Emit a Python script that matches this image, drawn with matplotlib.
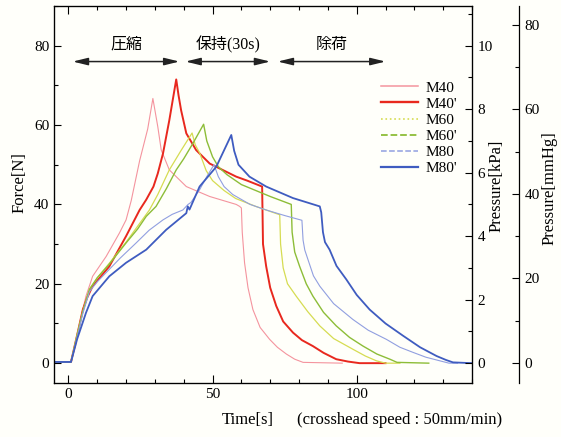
#!/usr/bin/env python3
"""Force / pressure vs time for the compression - hold - unload test."""
import matplotlib
matplotlib.use("Agg")
import matplotlib.pyplot as plt
from matplotlib.lines import Line2D
from matplotlib.ticker import MultipleLocator

SERIF = ["Liberation Serif", "DejaVu Serif"]
JP = ["Liberation Serif", "Noto Sans CJK JP"]

# curves: time [s], force [N]
m40_t = [-5, 0.8, 2.5, 3.8, 5, 6.1, 8.4, 13.1, 17.7, 20, 21.8, 24.7, 27.5, 29.3,
         31, 32.2, 35, 40.9, 49, 58.2, 59.4, 60.0, 60.3, 61.1, 62.3, 64,
         66.5, 69.8, 72.5, 75.6, 78.5, 81.4, 95]
m40_f = [0.3, 0.3, 4.5, 9.4, 13.5, 16.9, 21.9, 26.9, 32.8, 36.1, 41, 51, 59, 66.7,
         59.6, 53.7, 48.7, 44.5, 42, 40, 39.5, 39.1, 33, 25.3, 19, 13.5,
         9, 6, 4, 2.3, 1, 0.2, 0]

m40p_t = [-5, 0.9, 3, 5, 6.5, 8.4, 14.2, 20, 24.7, 27, 29.5, 31, 32.8, 35, 37.4,
          38.2, 39.1, 40.9, 44.3, 49, 58.2, 62, 67.2, 67.5, 68.6, 70, 72.1, 74.5,
          77.9, 81, 84.8, 88.5, 92.9, 97, 101, 110]
m40p_f = [0.3, 0.3, 7, 13.5, 16.5, 19.4, 24.4, 32, 38.6, 41.2, 44.5, 47.8, 52.8,
          61.2, 71.5, 67.5, 63.7, 57.9, 53.7, 50.3, 47, 46, 44.5, 30, 24.4, 19,
          14.4, 10.5, 7.7, 5.8, 4.3, 2.6, 1, 0.4, 0, 0]

m60_t = [-5, 0.9, 3, 5, 7.3, 10, 14, 20, 25, 28.1, 31, 35, 39, 42.9, 44, 45.5,
         47.8, 50, 54, 58, 65, 73.3, 73.6, 74.5, 76, 79, 83, 87.2, 92, 98.7,
         103, 106.8, 110, 115]
m60_f = [0.3, 0.3, 7, 13, 18.6, 21.5, 25, 30.5, 35.5, 38.6, 42.5, 48.7, 53.5, 58,
         55, 53, 48.5, 46, 43.5, 41.5, 39.5, 37.4, 30, 24, 20, 16.9, 13, 9.4,
         6.2, 3.5, 1.8, 0.6, 0, 0]

m60p_t = [-5, 0.9, 3, 5, 7.3, 10, 14, 20, 24, 27, 30.4, 34, 37.4, 40, 43.2, 46.9,
          48, 50, 52, 55, 60, 65, 70, 77.3, 77.6, 78.5, 80.2, 82.5, 84.8, 88.5,
          92.9, 97.5, 102.2, 107, 111.5, 114, 125]
m60p_f = [0.3, 0.3, 7, 13, 18.6, 21.5, 24.8, 30.3, 33.8, 37, 39.5, 44, 48.7, 51.5,
          55.4, 60.2, 56, 52, 49.5, 47.5, 45, 43.5, 42, 40, 33, 28, 24.4, 20,
          16.9, 12.8, 9.4, 6.5, 4.3, 2.3, 1, 0.2, 0]

m80_t = [-5, 0.9, 3, 5, 7.3, 10, 14, 18, 23.5, 28, 32.8, 36, 39.7, 41.5, 42.5,
         45.5, 48, 50.5, 52, 54, 57, 63, 68.6, 75, 81, 81.4, 82, 83.1, 85, 87.2,
         92, 98.7, 104, 110.3, 115, 119.6, 124, 128.8, 132, 135]
m80_f = [0.3, 0.3, 6.5, 12.5, 18, 20.5, 23.5, 26.5, 30.3, 33.5, 36.1, 37.5, 38.6,
         40, 40.5, 43.7, 47, 50, 47, 44.5, 42.5, 40, 38.6, 37.2, 36, 31, 28.5,
         26.1, 22, 19.4, 15, 11, 8.3, 6, 4, 2.7, 1.5, 0.6, 0, 0]

m80p_t = [-5, 0.9, 3, 6.1, 8.4, 14.2, 20, 27, 33.9, 40.9, 41.4, 42, 45.5, 51.3,
          56.5, 57.5, 59, 62.8, 68.6, 77.9, 87.2, 87.7, 88.3, 89, 90.6, 93, 96.4,
          100, 104.5, 110, 116.1, 122, 127.7, 131, 133.4, 140]
m80p_f = [0.3, 0.3, 6, 12.7, 16.9, 21.9, 25.3, 28.6, 33.6, 37.8, 39.5, 38.7, 44.5,
          49.5, 57.5, 53.5, 50, 47, 44.5, 41.6, 39.5, 38, 33, 30.5, 28.6, 24.5,
          21.1, 17.2, 13.5, 10, 6.9, 4, 1.8, 0.8, 0.2, 0]

labels = ["M40", "M40'", "M60", "M60'", "M80", "M80'"]
colors = ["#f4949e", "#e8281e", "#d6dc52", "#8dbd38", "#919fe0", "#3f5cc0"]
widths = [0.8, 1.4, 0.9, 1.0, 0.8, 1.3]
styles = ["-", "-", ":", "--", "--", "-"]

# test phases: (start, end) in seconds and their labels
phase_names = ["圧縮", "保持(30s)", "除荷"]
phase_start = [1.5, 40.6, 72.6]
phase_end = [38.5, 70.0, 110.0]

KPA_PER_N = 1 / 8.0
MMHG_PER_KPA = 7.5


def main() -> None:
    W, H = 561, 437
    fig = plt.figure(figsize=(W / 100, H / 100), dpi=100, facecolor="#fffffa")
    ax = fig.add_axes([54 / W, 1 - 383 / H, (472 - 54) / W, (383 - 6) / H])
    ax.set_facecolor("#fffffa")

    series = [(m40_t, m40_f), (m40p_t, m40p_f), (m60_t, m60_f),
              (m60p_t, m60p_f), (m80_t, m80_f), (m80p_t, m80p_f)]
    for (t, f), c, lw in zip(series, colors, widths):
        ax.plot(t, f, color=c, lw=lw)

    ylo, yhi = -5, 90
    ax.set_xlim(-5, 140)
    ax.set_ylim(ylo, yhi)
    ax.xaxis.set_major_locator(MultipleLocator(50))
    ax.xaxis.set_minor_locator(MultipleLocator(10))
    ax.yaxis.set_major_locator(MultipleLocator(20))
    ax.yaxis.set_minor_locator(MultipleLocator(10))
    ax.tick_params(which="both", direction="in", top=True, labelsize=11)
    ax.tick_params(which="major", length=5, width=0.8)
    ax.tick_params(which="minor", length=3, width=0.8)
    ax.tick_params(axis="x", which="major", length=6)
    for s in ax.spines.values():
        s.set_linewidth(0.9)
    for lab in ax.get_xticklabels() + ax.get_yticklabels():
        lab.set_family(SERIF)

    # kPa on the right spine
    ax2 = ax.twinx()
    ax2.set_ylim(ylo * KPA_PER_N, yhi * KPA_PER_N)
    ax2.yaxis.set_major_locator(MultipleLocator(2))
    ax2.yaxis.set_minor_locator(MultipleLocator(1))
    ax2.tick_params(which="both", direction="in", labelsize=11, pad=4)
    ax2.tick_params(which="major", length=5, width=0.8)
    ax2.tick_params(which="minor", length=3, width=0.8)
    for lab in ax2.get_yticklabels():
        lab.set_family(SERIF)

    # mmHg on a detached spine further right
    ax3 = ax.twinx()
    ax3.spines["right"].set_position(("axes", 1.112))
    for k in ("left", "top", "bottom"):
        ax3.spines[k].set_visible(False)
    ax3.spines["right"].set_linewidth(0.9)
    ax3.set_ylim(ylo * KPA_PER_N * MMHG_PER_KPA, yhi * KPA_PER_N * MMHG_PER_KPA)
    ax3.yaxis.set_major_locator(MultipleLocator(20))
    ax3.yaxis.set_minor_locator(MultipleLocator(10))
    ax3.tick_params(which="both", direction="in", labelsize=11, pad=4)
    ax3.tick_params(which="major", length=5, width=0.8)
    ax3.tick_params(which="minor", length=3, width=0.8)
    for lab in ax3.get_yticklabels():
        lab.set_family(SERIF)

    # phase arrows
    for name, a, b in zip(phase_names, phase_start, phase_end):
        ax.annotate("", xy=(b, 76), xytext=(a, 76),
                    arrowprops=dict(arrowstyle="<|-|>,head_length=0.9,head_width=0.22",
                                    color="#222222", lw=1.1, shrinkA=0, shrinkB=0))
        ax.text((a + b) / 2, 80.3, name, ha="center", va="center",
                fontsize=11.5, family=JP)

    handles = [Line2D([], [], color=c, lw=lw + 0.3, ls=ls)
               for c, lw, ls in zip(colors, widths, styles)]
    fig.legend(handles, labels, loc="upper left",
               bbox_to_anchor=(381 / W, 1 - 81 / H), bbox_transform=fig.transFigure,
               frameon=False, prop={"family": SERIF, "size": 11},
               handlelength=2.45, handletextpad=0.45, labelspacing=0.16,
               borderpad=0, borderaxespad=0)

    fig.text(20 / W, 1 - 183 / H, "Force[N]", rotation=90, ha="center",
             va="center", fontsize=12, family=SERIF)
    fig.text(497 / W, 1 - 186 / H, "Pressure[kPa]", rotation=90, ha="center",
             va="center", fontsize=12, family=SERIF)
    fig.text(550 / W, 1 - 188 / H, "Pressure[mmHg]", rotation=90, ha="center",
             va="center", fontsize=12, family=SERIF)
    fig.text(222 / W, 1 - 420 / H, "Time[s]", ha="left", va="center",
             fontsize=12, family=SERIF)
    fig.text(297 / W, 1 - 420 / H, "(crosshead speed : 50mm/min)", ha="left",
             va="center", fontsize=12, family=SERIF)

    fig.savefig("out.png", dpi=100, facecolor=fig.get_facecolor())


if __name__ == "__main__":
    main()
